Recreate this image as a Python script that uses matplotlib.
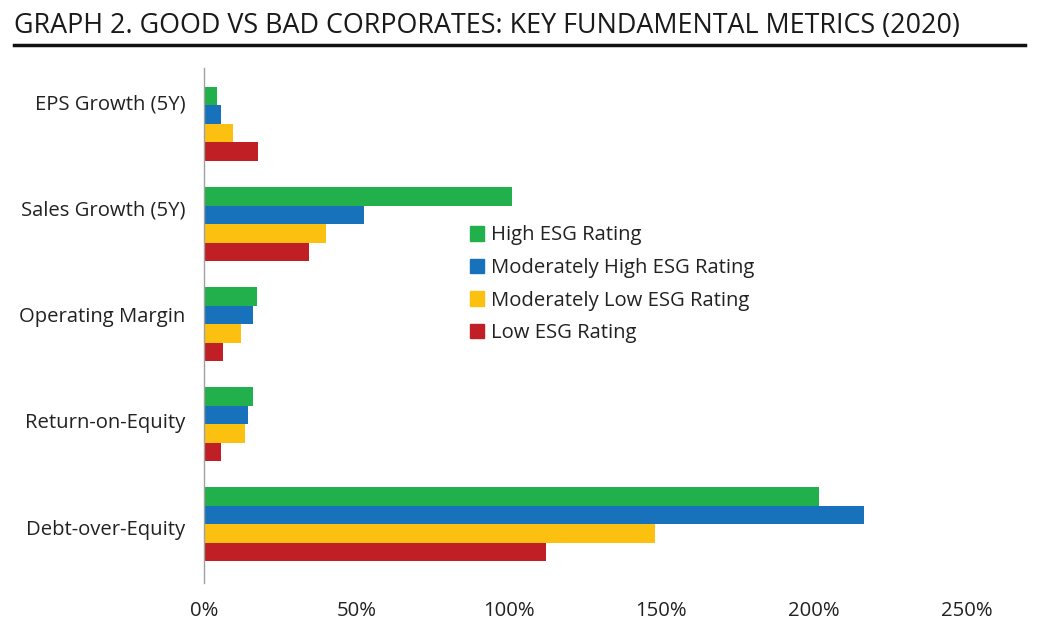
import numpy as np
import matplotlib.pyplot as plt
from matplotlib.patches import Patch

metrics = ['EPS Growth (5Y)', 'Sales Growth (5Y)', 'Operating Margin',
           'Return-on-Equity', 'Debt-over-Equity']
series = ['High ESG Rating', 'Moderately High ESG Rating',
          'Moderately Low ESG Rating', 'Low ESG Rating']
high = [4.3, 101.0, 17.4, 16.0, 201.5]
mod_high = [5.6, 52.5, 16.0, 14.4, 216.5]
mod_low = [9.5, 40.0, 12.0, 13.4, 148.0]
low = [17.7, 34.4, 6.2, 5.6, 112.0]
xticks = [0, 50, 100, 150, 200, 250]

colors = ['#21b04b', '#1771bb', '#fcc010', '#c01f26']
values = [high, mod_high, mod_low, low]

plt.rcParams['font.family'] = ['Open Sans', 'DejaVu Sans']

fig = plt.figure(figsize=(10.39, 6.29), dpi=100)
ax = fig.add_axes([0.1963, 0.0731, 0.7339, 0.8188])

y = np.arange(len(metrics))
h = 0.185
for i, (vals, c) in enumerate(zip(values, colors)):
    ax.barh(y + (i - 1.5) * h, vals, height=h, color=c, label=series[i])

ax.set_xlim(0, 250)
ax.set_ylim(4.59, -0.56)
# the labels in the original sit a bit off the group centres
ax.set_yticks(np.linspace(-0.22, 4.03, len(metrics)))
ax.set_yticklabels(metrics, fontsize=14.6, color='#222222')
ax.set_xticks(xticks)
ax.set_xticklabels([f'{t}%' for t in xticks], fontsize=14.6, color='#222222')
ax.tick_params(axis='both', length=0)
ax.tick_params(axis='x', pad=13)
ax.tick_params(axis='y', pad=13.5)
for s in ['top', 'right', 'bottom']:
    ax.spines[s].set_visible(False)
ax.spines['left'].set_color('#a0a0a0')
ax.spines['left'].set_linewidth(1)

handles = [Patch(color=c, label=s) for c, s in zip(colors, series)]
ax.legend(handles=handles, loc='upper left', bbox_to_anchor=(0.338, 0.71),
          frameon=False, fontsize=14.6, handlelength=0.72, handleheight=0.72,
          handletextpad=0.35, labelspacing=0.62, borderaxespad=0,
          labelcolor='#222222')

fig.text(0.0135, 0.958, 'GRAPH 2. GOOD VS BAD CORPORATES: KEY FUNDAMENTAL METRICS (2020)',
         fontsize=19.4, color='#1a1a1a', va='center', ha='left')
fig.add_artist(plt.Line2D([0.0135, 0.987], [0.928, 0.928], color='#111111', linewidth=2.5))

fig.savefig('out.png', dpi=100)
